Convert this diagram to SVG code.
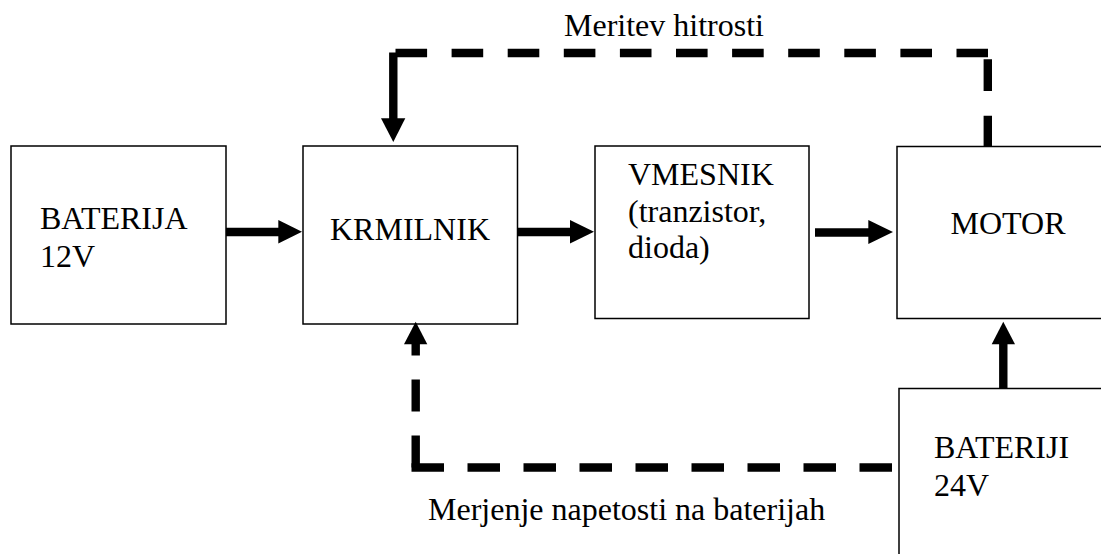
<svg xmlns="http://www.w3.org/2000/svg" width="1101" height="554" viewBox="0 0 1101 554">
<style>
.box{fill:#fff;stroke:#000;stroke-width:1.5}
.t{font-family:'Liberation Serif','Times New Roman',Tinos,'DejaVu Serif',serif;font-size:32px;fill:#000}
.ln{fill:none;stroke:#000;stroke-width:8.4;stroke-linecap:butt}
.d{stroke-dasharray:31.6 24.5}
.hd{fill:#000}
</style>
<rect width="1101" height="554" fill="#fff"/>
<g id="baterija12">
<rect class="box" x="11" y="146" width="215" height="178"/>
<text class="t" font-family="Liberation Serif" x="40" y="229">BATERIJA</text>
<text class="t" font-family="Liberation Serif" x="40" y="266.7">12V</text>
</g>
<g id="krmilnik">
<rect class="box" x="303" y="146" width="214.5" height="178"/>
<text class="t" font-family="Liberation Serif" x="410" y="240" text-anchor="middle">KRMILNIK</text>
</g>
<g id="vmesnik">
<rect class="box" x="595" y="146" width="214" height="172.5"/>
<text class="t" font-family="Liberation Serif" x="628" y="185">VMESNIK</text>
<text class="t" font-family="Liberation Serif" x="628" y="221.7">(tranzistor,</text>
<text class="t" font-family="Liberation Serif" x="628" y="258.3">dioda)</text>
</g>
<g id="motor">
<rect class="box" x="897" y="146.5" width="300" height="172"/>
<text class="t" font-family="Liberation Serif" x="950.5" y="234.3">MOTOR</text>
</g>
<g id="baterija24">
<rect class="box" x="899" y="388.5" width="300" height="300"/>
<text class="t" font-family="Liberation Serif" x="934" y="458.3">BATERIJI</text>
<text class="t" font-family="Liberation Serif" x="934" y="496">24V</text>
</g>
<g id="connectors">
<path class="ln" d="M226 232 H279"/>
<polygon class="hd" points="278.3,220 278.3,243.5 302,231.8"/>
<path class="ln" d="M517.5 232 H571"/>
<polygon class="hd" points="570,220 570,243.5 594,231.8"/>
<path class="ln" d="M815 232.5 H869"/>
<polygon class="hd" points="868.3,220 868.3,244 893,232"/>
<path class="ln d" d="M395.5 53 H988"/>
<path class="ln" style="stroke-dasharray:31.7 24.7" d="M987.8 59.3 V146.7"/>
<path class="ln" d="M393.3 52.5 V119"/>
<polygon class="hd" points="381,118.3 405.3,118.3 393.3,142"/>
<path class="ln" style="stroke-dasharray:32.5 23.5" d="M411.5 467.5 H896"/>
<path class="ln" style="stroke-dasharray:32 24" d="M415.7 467.5 V343.5"/>
<polygon class="hd" points="404,344.3 427.3,344.3 415.7,321.7"/>
<path class="ln" d="M1003.3 388.5 V343.5"/>
<polygon class="hd" points="991.7,344.3 1015,344.3 1003.3,321.7"/>
<text class="t" font-family="Liberation Serif" x="564" y="36">Meritev hitrosti</text>
<text class="t" font-family="Liberation Serif" x="428" y="520.4">Merjenje napetosti na baterijah</text>
</g>
</svg>
